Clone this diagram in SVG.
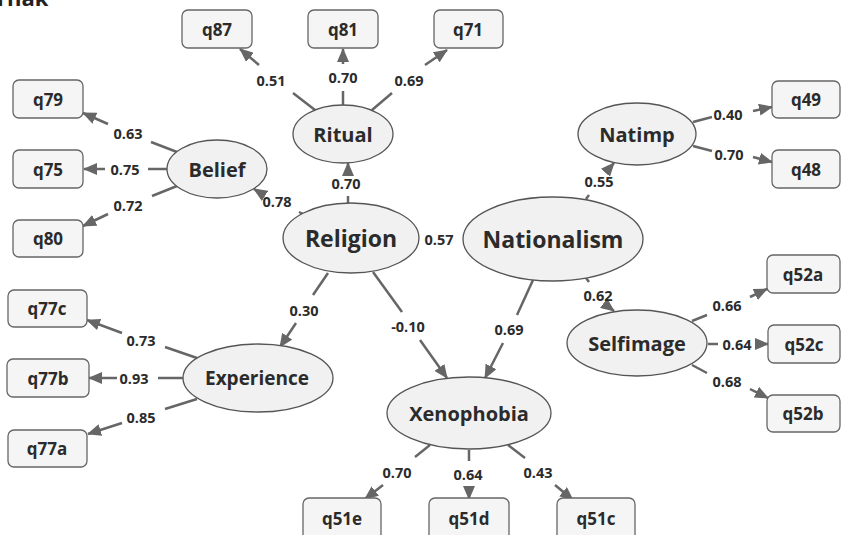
<svg xmlns="http://www.w3.org/2000/svg" width="841" height="535" viewBox="0 0 841 535">
<style>
.bx{fill:#f5f5f5;stroke:#666;stroke-width:1.3}
.el{fill:#f1f1f1;stroke:#555;stroke-width:1.3}
.nt{font-family:"Open Sans","DejaVu Sans",sans-serif;font-weight:700;font-size:20px;fill:#2b2b2b;text-anchor:middle;dominant-baseline:central}
.nb{font-size:23px}
.bt{font-family:"Open Sans","DejaVu Sans",sans-serif;font-weight:700;font-size:17px;fill:#2b2b2b;text-anchor:middle;dominant-baseline:central}
.lb{font-family:"Open Sans","DejaVu Sans",sans-serif;font-weight:700;font-size:14.5px;fill:#2b2b2b;text-anchor:middle;dominant-baseline:central}
.ln{stroke:#666;stroke-width:2.5;fill:none}
.ar{stroke:#666;stroke-width:2.5;fill:none;marker-end:url(#ah)}
</style>
<defs>
<marker id="ah" markerUnits="userSpaceOnUse" markerWidth="14" markerHeight="12" viewBox="0 0 14 12" refX="13" refY="6" orient="auto">
<path d="M0,0 L14,6 L0,12 z" fill="#666"/>
</marker>
</defs>
<rect width="841" height="535" fill="#fff"/>
<text x="-3" y="6" font-family="Open Sans, DejaVu Sans, sans-serif" font-weight="700" font-size="22" fill="#222">rnak</text>

<g id="connectors">
<line class="ln" x1="315" y1="110" x2="293" y2="93"/><line class="ar" x1="259" y1="65" x2="240" y2="49"/>
<line class="ln" x1="343" y1="105" x2="343" y2="91"/><line class="ar" x1="343" y1="64" x2="343" y2="49"/>
<line class="ln" x1="372" y1="110" x2="392" y2="93"/><line class="ar" x1="425" y1="65" x2="447" y2="50"/>
<line class="ln" x1="177" y1="152" x2="151" y2="142"/><line class="ar" x1="108" y1="124" x2="83" y2="113"/>
<line class="ln" x1="167" y1="169" x2="148" y2="169"/><line class="ar" x1="105" y1="169" x2="84" y2="169"/>
<line class="ln" x1="177" y1="186" x2="152" y2="196"/><line class="ar" x1="108" y1="214" x2="83" y2="226"/>
<line class="ln" x1="303" y1="214" x2="299" y2="212"/><line class="ar" x1="262" y1="194" x2="254" y2="189"/>
<line class="ln" x1="348" y1="203" x2="348" y2="196"/><line class="ar" x1="348" y1="171" x2="348" y2="163"/>
<line class="ln" x1="586" y1="199" x2="589" y2="195"/><line class="ar" x1="607" y1="171" x2="614" y2="163"/>
<line class="ln" x1="586" y1="278" x2="589" y2="282"/><line class="ar" x1="606" y1="305" x2="614" y2="311"/>
<line class="ln" x1="693" y1="122" x2="712" y2="117"/><line class="ar" x1="753" y1="111" x2="772" y2="107"/>
<line class="ln" x1="693" y1="146" x2="712" y2="151"/><line class="ar" x1="753" y1="157" x2="772" y2="162"/>
<line class="ln" x1="692" y1="321" x2="707" y2="315"/><line class="ar" x1="750" y1="297" x2="767" y2="289"/>
<line class="ln" x1="708" y1="344" x2="718" y2="344"/><line class="ar" x1="757" y1="344" x2="768" y2="344"/>
<line class="ln" x1="692" y1="365" x2="707" y2="373"/><line class="ar" x1="750" y1="389" x2="768" y2="398"/>
<line class="ln" x1="328" y1="273" x2="313" y2="295"/><line class="ar" x1="296" y1="323" x2="280" y2="347"/>
<line class="ln" x1="373" y1="272" x2="402" y2="312"/><line class="ar" x1="420" y1="340" x2="447" y2="378"/>
<line class="ln" x1="533" y1="280" x2="517" y2="315"/><line class="ar" x1="503" y1="343" x2="485" y2="378"/>
<line class="ln" x1="197" y1="358" x2="165" y2="347"/><line class="ar" x1="122" y1="333" x2="87" y2="320"/>
<line class="ln" x1="183" y1="378" x2="158" y2="378"/><line class="ar" x1="117" y1="378" x2="89" y2="378"/>
<line class="ln" x1="197" y1="399" x2="165" y2="409"/><line class="ar" x1="122" y1="423" x2="88" y2="434"/>
<line class="ln" x1="430" y1="445" x2="415" y2="457"/><line class="ar" x1="383" y1="485" x2="365" y2="499"/>
<line class="ln" x1="469" y1="450" x2="469" y2="461"/><line class="ar" x1="469" y1="487" x2="469" y2="499"/>
<line class="ln" x1="508" y1="445" x2="525" y2="458"/><line class="ar" x1="555" y1="485" x2="573" y2="500"/>
<text class="lb" x="271" y="80">0.51</text>
<text class="lb" x="343" y="77">0.70</text>
<text class="lb" x="409" y="80">0.69</text>
<text class="lb" x="128" y="133">0.63</text>
<text class="lb" x="125" y="169">0.75</text>
<text class="lb" x="128" y="205">0.72</text>
<text class="lb" x="277" y="201">0.78</text>
<text class="lb" x="346" y="183">0.70</text>
<text class="lb" x="439" y="239">0.57</text>
<text class="lb" x="599" y="181">0.55</text>
<text class="lb" x="598" y="295">0.62</text>
<text class="lb" x="728" y="114">0.40</text>
<text class="lb" x="729" y="154">0.70</text>
<text class="lb" x="727" y="305">0.66</text>
<text class="lb" x="737" y="344">0.64</text>
<text class="lb" x="727" y="381">0.68</text>
<text class="lb" x="304" y="310">0.30</text>
<text class="lb" x="408" y="326">-0.10</text>
<text class="lb" x="509" y="329">0.69</text>
<text class="lb" x="141" y="340">0.73</text>
<text class="lb" x="134" y="378">0.93</text>
<text class="lb" x="141" y="417">0.85</text>
<text class="lb" x="397" y="472">0.70</text>
<text class="lb" x="468" y="474">0.64</text>
<text class="lb" x="538" y="472">0.43</text>
</g>

<g id="Ritual"><ellipse class="el" cx="343" cy="134" rx="50" ry="29"/><text class="nt" x="343" y="134">Ritual</text></g>
<g id="Belief"><ellipse class="el" cx="217" cy="169" rx="50" ry="29"/><text class="nt" x="217" y="169">Belief</text></g>
<g id="Religion"><ellipse class="el" cx="351" cy="238" rx="68" ry="35"/><text class="nt nb" x="351" y="238">Religion</text></g>
<g id="Nationalism"><ellipse class="el" cx="553" cy="239" rx="90" ry="42"/><text class="nt nb" x="553" y="239">Nationalism</text></g>
<g id="Natimp"><ellipse class="el" cx="637" cy="134" rx="59" ry="31"/><text class="nt" x="637" y="134">Natimp</text></g>
<g id="Selfimage"><ellipse class="el" cx="637" cy="343" rx="70" ry="33"/><text class="nt" x="637" y="343">Selfimage</text></g>
<g id="Experience"><ellipse class="el" cx="258" cy="378" rx="75" ry="34"/><text class="nt" x="257" y="378" style="font-size:19px">Experience</text></g>
<g id="Xenophobia"><ellipse class="el" cx="469" cy="413" rx="82" ry="36"/><text class="nt" x="469" y="413">Xenophobia</text></g>

<g id="q87"><rect class="bx" x="182" y="10" width="70" height="38" rx="6"/><text class="bt" x="217" y="29">q87</text></g>
<g id="q81"><rect class="bx" x="308" y="10" width="70" height="38" rx="6"/><text class="bt" x="343" y="29">q81</text></g>
<g id="q71"><rect class="bx" x="434" y="10" width="69" height="38" rx="6"/><text class="bt" x="468" y="29">q71</text></g>
<g id="q79"><rect class="bx" x="13" y="80" width="70" height="38" rx="6"/><text class="bt" x="48" y="99">q79</text></g>
<g id="q75"><rect class="bx" x="13" y="150" width="70" height="38" rx="6"/><text class="bt" x="48" y="169">q75</text></g>
<g id="q80"><rect class="bx" x="13" y="220" width="70" height="37" rx="6"/><text class="bt" x="48" y="238">q80</text></g>
<g id="q49"><rect class="bx" x="772" y="81" width="68" height="37" rx="6"/><text class="bt" x="806" y="99">q49</text></g>
<g id="q48"><rect class="bx" x="772" y="150" width="68" height="38" rx="6"/><text class="bt" x="806" y="169">q48</text></g>
<g id="q52a"><rect class="bx" x="767" y="255" width="73" height="38" rx="6"/><text class="bt" x="803" y="274">q52a</text></g>
<g id="q52c"><rect class="bx" x="768" y="325" width="72" height="38" rx="6"/><text class="bt" x="804" y="344">q52c</text></g>
<g id="q52b"><rect class="bx" x="767" y="395" width="73" height="37" rx="6"/><text class="bt" x="803" y="413">q52b</text></g>
<g id="q77c"><rect class="bx" x="8" y="290" width="79" height="37" rx="6"/><text class="bt" x="47" y="308">q77c</text></g>
<g id="q77b"><rect class="bx" x="7" y="359" width="82" height="38" rx="6"/><text class="bt" x="48" y="378">q77b</text></g>
<g id="q77a"><rect class="bx" x="8" y="430" width="79" height="37" rx="6"/><text class="bt" x="47" y="448">q77a</text></g>
<g id="q51e"><rect class="bx" x="303" y="498" width="78" height="44" rx="6"/><text class="bt" x="342" y="518">q51e</text></g>
<g id="q51d"><rect class="bx" x="429" y="498" width="80" height="44" rx="6"/><text class="bt" x="469" y="518">q51d</text></g>
<g id="q51c"><rect class="bx" x="557" y="498" width="78" height="44" rx="6"/><text class="bt" x="596" y="518">q51c</text></g>
</svg>
